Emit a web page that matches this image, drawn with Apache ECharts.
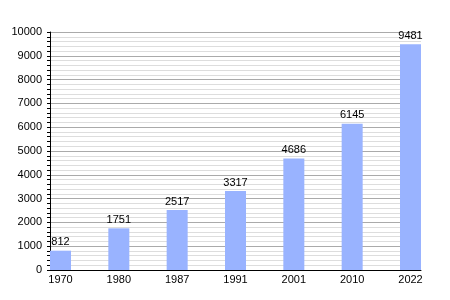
<!DOCTYPE html>
<html><head><meta charset="utf-8">
<script src="https://cdn.jsdelivr.net/npm/echarts@6/dist/echarts.min.js"></script>
<style>html,body{margin:0;padding:0;background:#fff}#c{width:450px;height:300px}</style>
</head><body><div id="c"></div>
<script>
const categories = ['1970','1980','1987','1991','2001','2010','2022'];
const values = [812,1751,2517,3317,4686,6145,9481];
const yTicks = [0,1000,2000,3000,4000,5000,6000,7000,8000,9000,10000];

const chart = echarts.init(document.getElementById('c'), null, {renderer:'canvas'});
const font = 'Liberation Sans, Arial, sans-serif';
chart.setOption({
  animation:false,
  grid:{left:50,right:29,top:32,bottom:30,containLabel:false},
  xAxis:{
    type:'value', min:-0.18, max:6.18,
    axisLine:{show:true,onZero:false,lineStyle:{color:'#000',width:1}},
    axisTick:{show:false},
    splitLine:{show:false},
    axisLabel:{customValues:categories.map((c,i)=>i),formatter:v=>categories[Math.round(v)]||'',
      color:'#000',fontFamily:font,fontSize:11,margin:4}
  },
  yAxis:{
    type:'value', min:0, max:10000, interval:1000,
    axisLine:{show:true,onZero:false,lineStyle:{color:'#000'}},
    axisTick:{show:true,length:3,lineStyle:{color:'#000'}},
    minorTick:{show:true,splitNumber:5,length:3,lineStyle:{color:'#000'}},
    splitLine:{show:true,lineStyle:{color:'#aaaaaa',width:1}},
    minorSplitLine:{show:true,lineStyle:{color:'#dddddd',width:1}},
    axisLabel:{customValues:yTicks,formatter:v=>String(v),color:'#000',fontFamily:font,fontSize:11,margin:8}
  },
  series:[{
    type:'bar', barWidth:21,
    data:values.map((v,i)=>[i,v]),
    itemStyle:{color:'#99b3ff'},
    label:{show:true,position:'top',distance:3,color:'#000',fontFamily:font,fontSize:11,
      formatter:p=>p.value[1]}
  }]
});
</script></body></html>
